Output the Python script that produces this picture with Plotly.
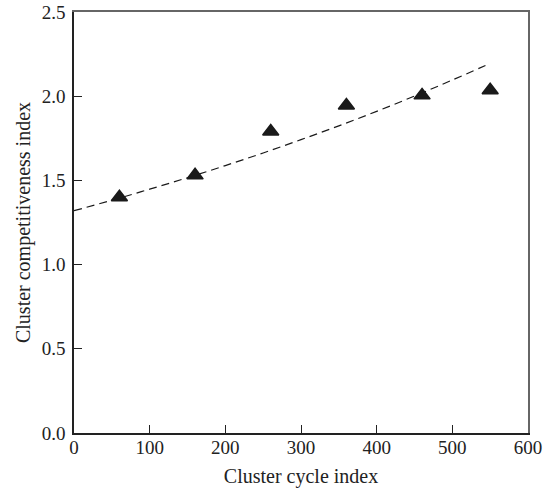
import plotly.graph_objects as go

# Observed data (triangles)
cycle_index = [60, 160, 260, 360, 460, 550]
competitiveness = [1.40, 1.53, 1.79, 1.945, 2.005, 2.035]

# Fitted trend curve (dashed)
fit_x = [0, 50, 100, 150, 200, 250, 300, 350, 400, 450, 500, 550]
fit_y = [1.320, 1.382, 1.448, 1.516, 1.588, 1.663, 1.742, 1.824, 1.910, 2.001, 2.096, 2.195]

x_ticks = [0, 100, 200, 300, 400, 500, 600]
y_ticks = [0.0, 0.5, 1.0, 1.5, 2.0, 2.5]

font_family = "Liberation Serif"

fig = go.Figure()
fig.add_trace(go.Scatter(
    x=fit_x, y=fit_y, mode="lines",
    line=dict(color="#1a1a1a", width=1.2, dash="8px,5px", shape="spline"),
    showlegend=False, hoverinfo="skip",
))
fig.add_trace(go.Scatter(
    x=cycle_index, y=competitiveness, mode="markers",
    marker=dict(symbol="triangle-up", size=14, color="#1a1a1a",
                line=dict(color="#1a1a1a", width=1.5)),
    showlegend=False,
))
# invisible trace to activate the top/right frame axes
fig.add_trace(go.Scatter(x=[None], y=[None], xaxis="x2", yaxis="y2",
                         showlegend=False, hoverinfo="skip"))

fig.update_layout(
    width=555, height=492,
    margin=dict(l=74, r=27, t=12, b=59, autoexpand=False),
    paper_bgcolor="white", plot_bgcolor="white",
    font=dict(family=font_family, size=19, color="#222222"),
    xaxis=dict(
        range=[0, 600], tickvals=x_ticks, ticktext=[str(v) for v in x_ticks],
        ticks="inside", ticklen=8, tickwidth=1, tickcolor="#222222",
        showline=True, linecolor="#222222", linewidth=1.5,
        showgrid=False, zeroline=False, automargin=False,
        ticklabelstandoff=-4,
        title=dict(text="Cluster cycle index", standoff=12,
                   font=dict(family=font_family, size=20)),
        tickfont=dict(family=font_family, size=19),
    ),
    yaxis=dict(
        range=[0, 2.5], tickvals=y_ticks, ticktext=[f"{v:.1f}" for v in y_ticks],
        ticks="inside", ticklen=8, tickwidth=1, tickcolor="#222222",
        showline=True, linecolor="#222222", linewidth=1.5,
        showgrid=False, zeroline=False, automargin=False,
        ticklabelstandoff=3,
        title=dict(text="Cluster competitiveness index", standoff=6,
                   font=dict(family=font_family, size=20)),
        tickfont=dict(family=font_family, size=19),
    ),
    xaxis2=dict(overlaying="x", side="top", range=[0, 600], showline=True,
                linecolor="#666666", linewidth=2, showticklabels=False,
                ticks="", showgrid=False, zeroline=False, automargin=False),
    yaxis2=dict(overlaying="y", side="right", range=[0, 2.5], showline=True,
                linecolor="#666666", linewidth=2, showticklabels=False,
                ticks="", showgrid=False, zeroline=False, automargin=False),
)

fig.write_html("out.html",
               config={"displayModeBar": False},
               post_script="document.body.style.margin='0';document.body.style.overflow='hidden';")
